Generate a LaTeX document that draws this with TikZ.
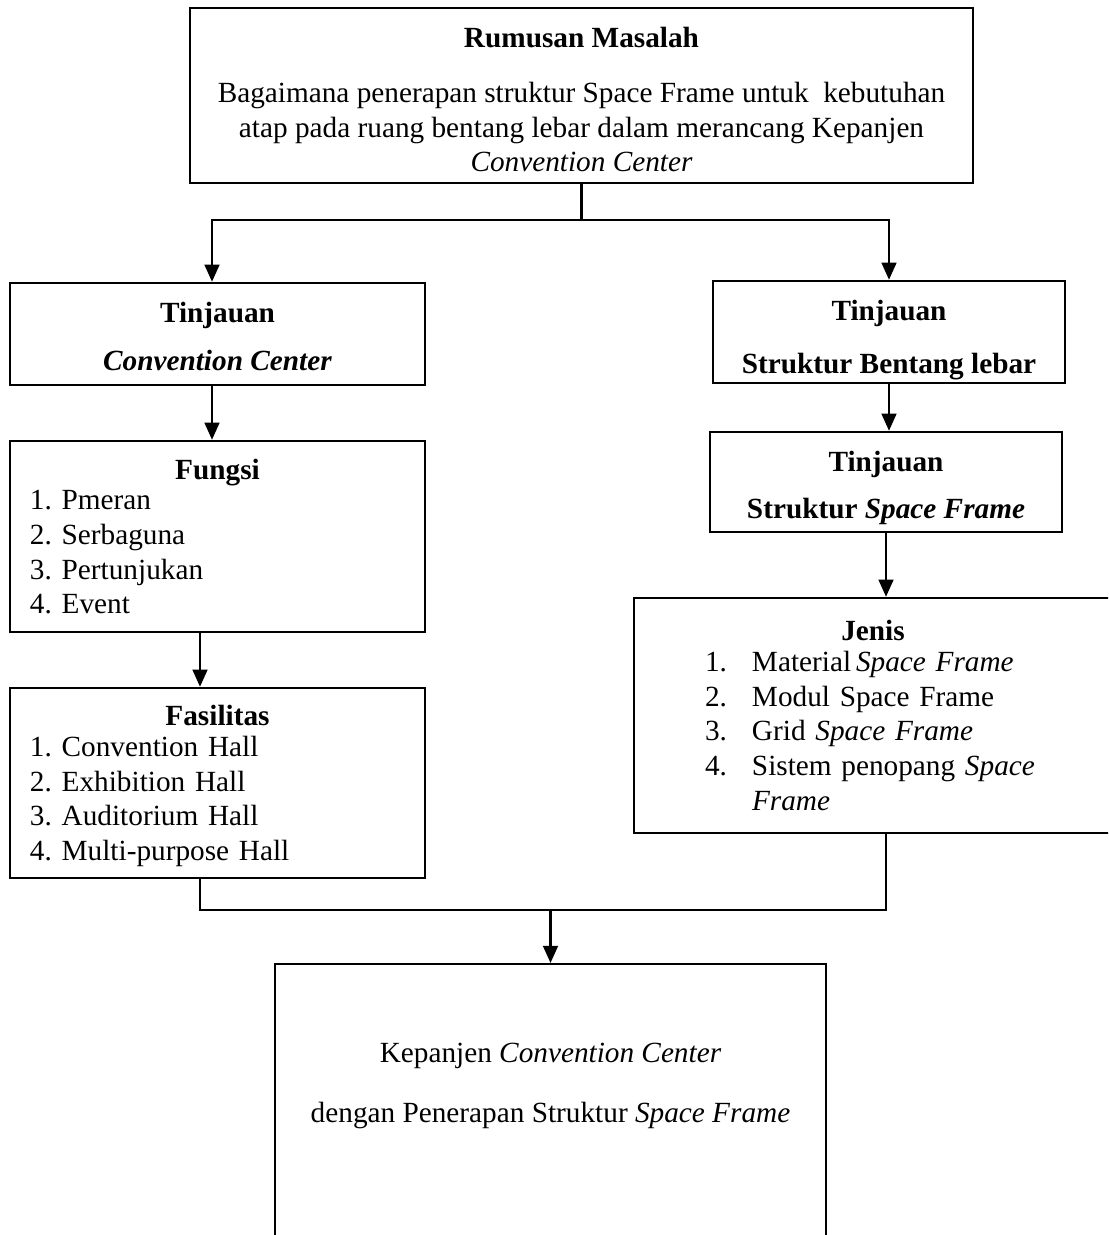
\documentclass[tikz,border=0pt]{standalone}
\usepackage{fontspec}
\setmainfont{Liberation Serif}
\usetikzlibrary{arrows.meta}
\newlength{\pxu}\setlength{\pxu}{0.41pt}
% push the text of a box down by #1 sketch pixels
\newcommand{\geser}[1]{\rule{0pt}{\dimexpr 8.2pt+#1\pxu+#1\pxu\relax}}

\begin{document}
\begin{tikzpicture}[
        > = {Triangle[width=6pt,length=7pt]}, % arrow head style
        x = 0.41pt, y = -0.41pt, % one unit is one pixel of the sketch
        line width = 1pt, % line style
        font = \fontsize{12}{14.2}\selectfont\frenchspacing
    ]

    \tikzstyle{box}=[
        draw = black,
        line width = 1pt,
        inner sep = 0pt,
        align = center
    ]
    \tikzstyle{listbox}=[
        box,
        align = left
    ]

    \useasboundingbox (0,0) rectangle (1108,1235);
    \clip (0,0) rectangle (1108,1235);

    \node[box, minimum width=783\pxu, minimum height=175\pxu] (rumusan) at (581.5,95.5)
        {\geser{4}\textbf{Rumusan Masalah}\\[8.5pt]
         Bagaimana penerapan struktur Space Frame untuk\ \ kebutuhan\\
         atap pada ruang bentang lebar dalam merancang Kepanjen\\
         \textit{Convention Center}};

    % left column
    \node[box, minimum width=415\pxu, minimum height=102\pxu] (tinjauanCC) at (217.5,334)
        {\geser{3}\textbf{Tinjauan}\\[5.5pt] \textbf{\textit{Convention Center}}};
    \node[listbox, text width=375\pxu, minimum width=415\pxu, minimum height=191\pxu] (fungsi) at (217.5,536.5)
        {\makebox[\hsize]{\textbf{Fungsi}}\\[-1.5pt]
         1. Pmeran\\ 2. Serbaguna\\ 3. Pertunjukan\\ 4. Event};
    \node[listbox, text width=375\pxu, minimum width=415\pxu, minimum height=190\pxu] (fasilitas) at (217.5,783)
        {\geser{3}\makebox[\hsize]{\textbf{Fasilitas}}\\[-1.5pt]
         1. Convention Hall\\ 2. Exhibition Hall\\ 3. Auditorium Hall\\ 4. Multi-purpose Hall};

    % right column
    \node[box, minimum width=352\pxu, minimum height=102\pxu] (tinjauanBL) at (889,332)
        {\geser{8}\textbf{Tinjauan}\\[7.5pt] \textbf{Struktur Bentang lebar}};
    \node[box, minimum width=352\pxu, minimum height=100\pxu] (tinjauanSF) at (886,482)
        {\geser{6}\textbf{Tinjauan}\\[5pt] \textbf{Struktur \textit{Space Frame}}};
    \node[listbox, text width=336\pxu, minimum width=478\pxu, minimum height=235\pxu] (jenis) at (873,715.5)
        {\makebox[\hsize]{\textbf{Jenis}}\\[-1.5pt]
         \makebox[47\pxu][l]{1.}Material\,\textit{Space Frame}\\
         \makebox[47\pxu][l]{2.}Modul Space Frame\\
         \makebox[47\pxu][l]{3.}Grid \textit{Space Frame}\\
         \makebox[47\pxu][l]{4.}Sistem penopang \textit{Space}\\
         \hspace*{47\pxu}\textit{Frame}};

    % result
    \node[box, minimum width=551\pxu, minimum height=330\pxu, anchor=north] (hasil) at (550.5,963) {};
    \node[align=center] (hasilteks) at (550.5,1086)
        {Kepanjen \textit{Convention Center}\\[10.4pt]
         dengan Penerapan Struktur \textit{Space Frame}};

    \coordinate (cabang) at (581.5,220);
    \coordinate (kolomkiri) at (212,0);
    \coordinate (kiri) at (200,0);
    \coordinate (gabung) at (550.5,910);

    \draw (rumusan) -- (cabang);
    \draw[->] (cabang) -| (kolomkiri |- tinjauanCC.north);
    \draw[->] (cabang) -| (tinjauanBL);
    \draw[->] (kolomkiri |- tinjauanCC.south) -- (kolomkiri |- fungsi.north);
    \draw[->] (kiri |- fungsi.south) -- (kiri |- fasilitas.north);
    \draw[->] (tinjauanBL.south) -- (tinjauanBL.south |- tinjauanSF.north);
    \draw[->] (tinjauanSF.south) -- (tinjauanSF.south |- jenis.north);
    \draw (kiri |- fasilitas.south) |- (gabung);
    \draw (tinjauanSF.south |- jenis.south) |- (gabung);
    \draw[->] (gabung) -- (hasil);
\end{tikzpicture}
\end{document}
